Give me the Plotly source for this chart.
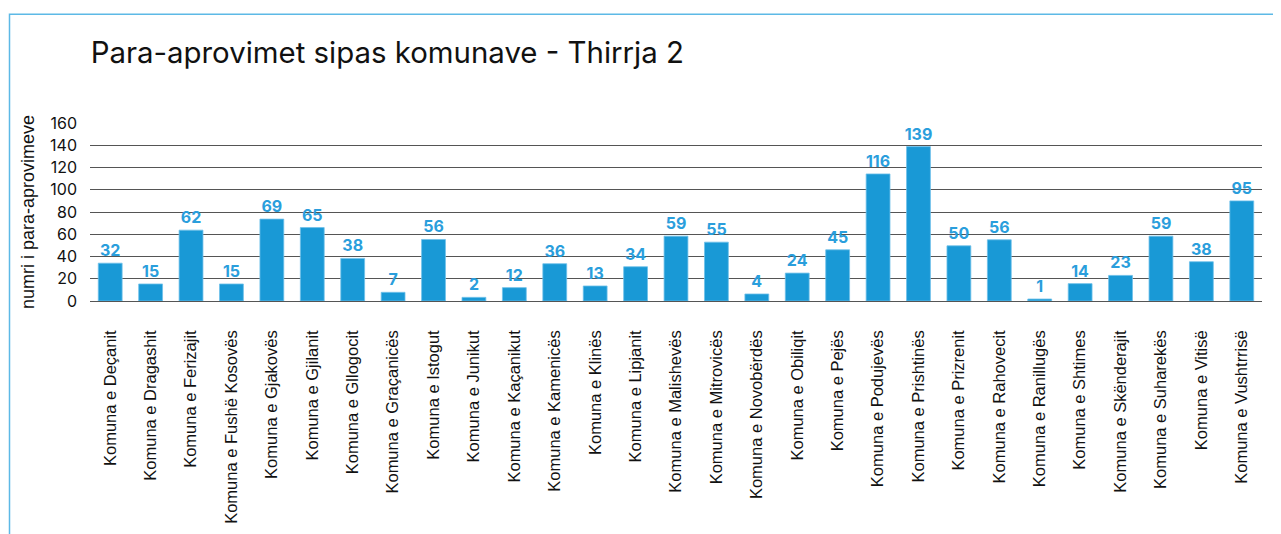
import plotly.graph_objects as go

# municipalities (x categories)
komunat = [
    'Komuna e Deçanit', 'Komuna e Dragashit', 'Komuna e Ferizajit', 'Komuna e Fushë Kosovës',
    'Komuna e Gjakovës', 'Komuna e Gjilanit', 'Komuna e Gllogocit', 'Komuna e Graçanicës',
    'Komuna e Istogut', 'Komuna e Junikut', 'Komuna e Kaçanikut', 'Komuna e Kamenicës',
    'Komuna e Klinës', 'Komuna e Lipjanit', 'Komuna e Malishevës', 'Komuna e Mitrovicës',
    'Komuna e Novobërdës', 'Komuna e Obiliqit', 'Komuna e Pejës', 'Komuna e Podujevës',
    'Komuna e Prishtinës', 'Komuna e Prizrenit', 'Komuna e Rahovecit', 'Komuna e Ranillugës',
    'Komuna e Shtimes', 'Komuna e Skënderajit', 'Komuna e Suharekës', 'Komuna e Vitisë',
    'Komuna e Vushtrrisë',
]

# printed data labels
numri = [32, 15, 62, 15, 69, 65, 38, 7, 56, 2, 12, 36, 13, 34, 59, 55, 4, 24, 45,
         116, 139, 50, 56, 1, 14, 23, 59, 38, 95]

# bar heights as drawn in the picture (they differ a little from the labels)
lartesia = [34, 15.3, 63.7, 15.3, 73.6, 66, 38.3, 7.8, 55.3, 3.3, 12, 33.5, 13.5, 30.8,
            58.3, 52.9, 6.3, 25.1, 46, 114.2, 138.8, 49.6, 55, 1.8, 15.6, 23, 58.3, 35.3, 90]

y_ticks = [0, 20, 40, 60, 80, 100, 120, 140, 160]

BLUE = '#1999D6'

fig = go.Figure()

fig.add_trace(go.Bar(
    x=komunat,
    y=lartesia,
    text=[str(n) for n in numri],
    textposition='outside',
    constraintext='none',
    cliponaxis=False,
    textfont=dict(family='Inter', size=16, color='#2A9EDC', weight='bold'),
    marker=dict(color=BLUE, line=dict(color='#6FC0EA', width=0.8)),
    hoverinfo='x+text',
))

# page body adds an 8px margin, so the figure is drawn 8px smaller
W, H = 1273, 526
L, R, T, B = 82, 19, 115, 233
pw = W - L - R
ph = H - T - B

# light blue frame around the chart (top and left edges are visible)
fig.add_shape(
    type='rect', xref='paper', yref='paper',
    x0=(1.5 - L) / pw, x1=1.2, y0=-3, y1=(H - B - 6.3) / ph,
    line=dict(color='#5DB9E6', width=1.5), fillcolor='rgba(0,0,0,0)',
    layer='below',
)

fig.update_layout(
    width=W, height=H,
    margin=dict(l=L, r=R, t=T, b=B, autoexpand=False),
    paper_bgcolor='white',
    plot_bgcolor='white',
    bargap=0.41,
    showlegend=False,
    title=dict(
        text='Para-aprovimet sipas komunave - Thirrja 2',
        font=dict(family='Inter', size=29.4, color='#111111'),
        x=82.7 / W, xref='container', xanchor='left',
        y=1 - 45 / H, yref='container', yanchor='middle',
    ),
    xaxis=dict(
        automargin=False,
        tickangle=-90,
        tickfont=dict(family='Liberation Sans, Arial', size=16.5, color='#111111'),
        ticklabelstandoff=25,
        showgrid=False,
        showline=False,
        ticks='',
    ),
    yaxis=dict(
        automargin=False,
        range=[0, 160],
        tickvals=y_ticks,
        tickfont=dict(family='Inter', size=16, color='#111111'),
        showgrid=True,
        gridcolor='#555555',
        gridwidth=1,
        zeroline=True,
        zerolinecolor='#555555',
        zerolinewidth=1,
        ticklabelstandoff=12,
        title=dict(
            text='numri i para-aprovimeve',
            font=dict(family='Liberation Sans, Arial', size=18, color='#111111'),
            standoff=10,
        ),
    ),
)

fig.write_html('out.html')
